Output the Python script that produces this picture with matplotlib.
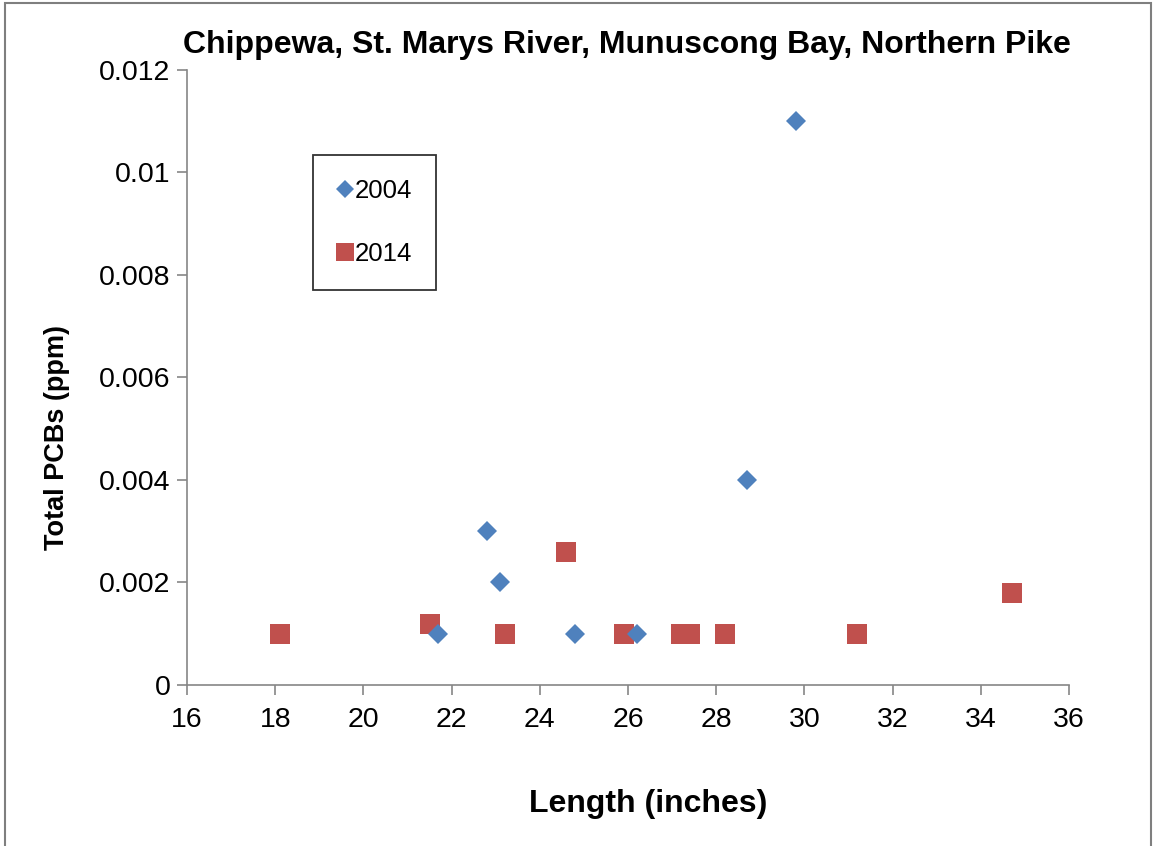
import matplotlib.pyplot as plt
from matplotlib.patches import Rectangle

plt.rcParams['font.family'] = ['Liberation Sans', 'DejaVu Sans']

# 2004 samples
len_2004 = [21.7, 22.8, 23.1, 24.8, 26.2, 28.7, 29.8]
pcb_2004 = [0.001, 0.003, 0.002, 0.001, 0.001, 0.004, 0.011]

# 2014 samples
len_2014 = [18.1, 21.5, 23.2, 24.6, 25.9, 27.2, 27.4, 28.2, 31.2, 34.7]
pcb_2014 = [0.001, 0.0012, 0.001, 0.0026, 0.001, 0.001, 0.001, 0.001, 0.001, 0.0018]

x_ticks = [16, 18, 20, 22, 24, 26, 28, 30, 32, 34, 36]
y_ticks = [0, 0.002, 0.004, 0.006, 0.008, 0.01, 0.012]
y_tick_labels = ['0', '0.002', '0.004', '0.006', '0.008', '0.01', '0.012']

fig = plt.figure(figsize=(11.56, 8.46), dpi=100)
ax = fig.add_axes([0.1618, 0.1903, 0.7629, 0.7270])

ax.plot(len_2014, pcb_2014, 's', color='#C0504D', markersize=14,
        markeredgewidth=0, label='2014', zorder=3)
ax.plot(len_2004, pcb_2004, 'D', color='#4F81BD', markersize=10,
        markeredgewidth=0, label='2004', zorder=4)

ax.set_xlim(16, 36)
ax.set_ylim(0, 0.012)
ax.set_xticks(x_ticks)
ax.set_yticks(y_ticks)
ax.set_yticklabels(y_tick_labels)
ax.tick_params(labelsize=20.5, direction='out', length=7, width=1.2, color='#868686')
ax.tick_params(axis='x', pad=9)
ax.tick_params(axis='y', pad=5)
for side in ['top', 'right']:
    ax.spines[side].set_visible(False)
for side in ['left', 'bottom']:
    ax.spines[side].set_color('#868686')
    ax.spines[side].set_linewidth(1.2)

ax.set_xlabel('Length (inches)', fontsize=23, fontweight='bold', va='baseline')
ax.xaxis.set_label_coords(0.523, -0.2065)
ax.set_ylabel('Total PCBs (ppm)', fontsize=19.5, fontweight='bold', va='center')
ax.yaxis.set_label_coords(-0.147, 0.403)
fig.text(0.5426, 0.937, 'Chippewa, St. Marys River, Munuscong Bay, Northern Pike',
         fontsize=23, fontweight='bold', ha='center', va='baseline')

handles, labels = ax.get_legend_handles_labels()
leg = ax.legend(handles[::-1], labels[::-1], loc='upper left',
                bbox_to_anchor=(0.143, 0.862), borderaxespad=0, fontsize=18.5,
                frameon=True, fancybox=False, edgecolor='black', labelspacing=1.5,
                borderpad=0.95, handletextpad=0.05, handlelength=0.6,
                markerscale=0.9)
leg.get_frame().set_linewidth(1.3)

# outer chart border
fig.patches.append(Rectangle((0.004, -0.01), 0.992, 1.007, transform=fig.transFigure,
                             fill=False, edgecolor='#7f7f7f', linewidth=1.5))

fig.savefig('out.png', dpi=100)
